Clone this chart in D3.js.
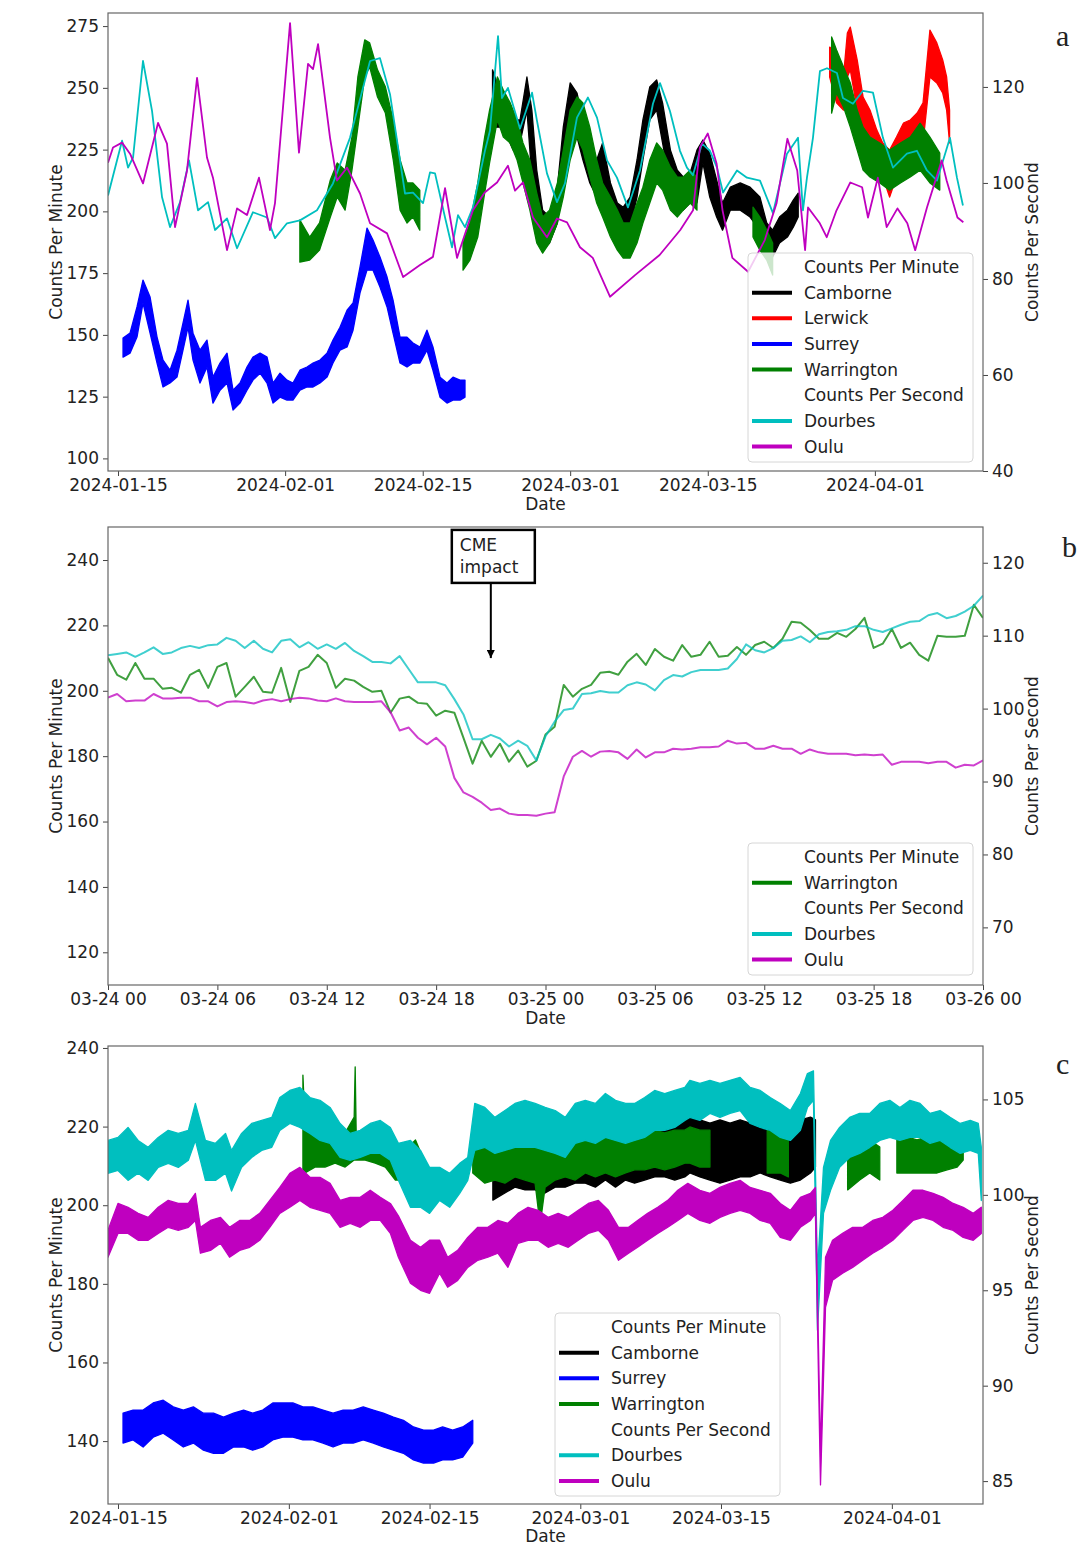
<!DOCTYPE html>
<html>
<head>
<meta charset="utf-8">
<script src="https://cdn.jsdelivr.net/npm/d3@7"></script>
<style>
  body { margin: 0; background: #fff; }
  text { font-family: "DejaVu Sans", sans-serif; fill: #222; }
</style>
</head>
<body>
<svg id="chart" width="1080" height="1545"></svg>
<script>
// ---------- data (days counted from 2024-01-15) ----------
// panel a : lines [day, value] and noisy bands [day, low, high]
var ouluA = [[-1.02,104.2],[-0.51,107.4],[0.41,108.4],[1.22,106.1],[2.54,99.9],[4.07,112.5],[4.98,108.2],[5.80,90.8],[7.02,102.6],[8.04,121.9],[9.05,105.3],[9.66,101.1],[11.09,86.0],[12.11,94.7],[13.12,93.3],[14.34,101.1],[15.46,90.2],[15.97,95.8],[17.50,133.3],[18.41,106.3],[19.33,124.8],[19.84,123.7],[20.35,128.9],[21.57,109.4],[22.28,100.5],[23.30,103.2],[24.62,97.8],[25.64,91.6],[27.37,89.5],[28.0,86.0],[29.0,80.4],[30.72,82.9],[32.04,84.6],[33.27,98.9],[34.49,84.4],[36.11,94.3],[37.3,98.0],[38.56,100.1],[39.67,103.6],[40.39,98.4],[41.20,100.1],[42.22,92.8],[43.64,88.7],[44.66,92.6],[45.68,91.8],[47.0,86.6],[48.3,84.4],[50.05,76.3],[52.6,80.8],[55.1,85.0],[57.2,90.2],[58.5,94.3],[59.2,107.4],[60.0,110.3],[60.9,104.0],[61.5,94.3],[62.5,84.4],[64.1,81.5],[65.8,88.1],[67.0,95.8],[68.1,109.2],[69.1,102.6],[69.9,86.0],[70.2,94.9],[71.4,91.6],[72.1,88.7],[73.1,94.3],[74.5,100.1],[75.7,99.1],[76.3,92.8],[77.3,101.1],[78.2,90.8],[79.3,94.7],[80.3,91.6],[81.1,86.0],[82.3,94.9],[83.8,104.7],[84.3,100.5],[85.4,92.8],[86.0,91.8]];

var dourbesA = [[-1.02,97.4],[0.41,108.8],[1.02,103.2],[1.53,105.3],[2.54,125.4],[3.46,115.0],[4.48,97.0],[5.29,90.8],[6.31,96.0],[7.22,104.7],[8.14,94.3],[9.16,96.0],[9.87,90.2],[11.09,92.6],[12.11,86.4],[13.73,93.9],[15.16,92.8],[15.97,88.5],[17.19,91.6],[18.51,92.2],[20.24,94.3],[21.87,99.9],[23.60,109.4],[24.92,119.8],[25.64,125.4],[26.65,126.0],[27.67,118.5],[28.69,104.7],[29.20,97.8],[30.01,98.0],[31.03,95.8],[31.74,102.2],[32.25,102.0],[33.27,92.8],[33.98,86.6],[34.59,93.3],[35.30,90.8],[36.11,94.9],[37.33,106.7],[37.84,110.9],[38.66,130.6],[39.06,117.7],[39.67,119.8],[40.90,111.3],[42.12,118.8],[42.62,113.0],[43.64,102.0],[44.66,96.0],[45.47,99.9],[46.69,113.6],[47.81,117.8],[48.73,113.6],[49.75,104.7],[50.76,101.1],[51.88,94.9],[53.10,102.6],[54.42,116.5],[55.14,120.8],[56.15,115.0],[57.17,106.7],[57.88,103.2],[58.49,101.6],[59.41,108.2],[60.22,106.7],[60.94,103.2],[61.55,98.0],[62.97,102.6],[63.99,101.1],[65.31,100.5],[66.63,93.7],[68.06,106.1],[69.18,109.4],[69.68,94.3],[70.09,101.1],[70.70,109.4],[71.41,123.3],[72.13,123.9],[73.14,122.9],[73.75,117.7],[74.77,116.5],[75.79,119.2],[76.81,118.8],[77.82,109.4],[78.84,103.2],[80.26,106.1],[81.28,106.7],[82.30,102.6],[83.32,100.5],[84.64,109.4],[85.35,101.1],[85.96,95.3]];

var warringtonA = [[18.5,179.5,196.5],[19.5,180.3,189.6],[20.5,184.3,195.3],[21.6,197.7,212.7],[22.3,205.8,219.6],[23.1,200.5,216.7],[23.8,216.7,230.1],[24.4,234.1,254.4],[25.1,254.4,269.4],[25.6,258.5,268.2],[26.4,246.3,257.3],[27.2,239.8,250.4],[28.0,220.8,237.0],[28.7,200.5,220.8],[29.4,195.3,211.5],[30.0,197.7,211.5],[30.7,192.4,208.6],
  [33,null,null],
  [35.1,176.2,187.2],[35.8,180.3,195.3],[36.6,189.6,211.5],[37.3,207.4,230.1],[37.8,219.6,241.0],[38.6,237.0,254.4],[39.2,230.1,249.1],[39.9,227.7,243.9],[40.6,220.8,237.0],[41.2,211.5,227.7],[41.9,200.5,220.8],[42.6,187.2,207.4],[43.2,183.1,197.7],[43.9,187.2,200.5],[44.7,195.3,211.5],[45.3,205.8,224.8],[46.0,220.8,241.0],[46.7,230.1,246.3],[47.3,224.8,243.9],[48.0,213.9,234.1],[48.7,203.4,220.8],[49.3,197.7,211.5],[50.1,189.6,205.8],[50.8,184.3,200.5],[51.4,181.1,195.3],[52.1,181.1,195.3],[52.8,187.2,203.4],[53.4,195.3,209.8],[54.1,203.4,220.8],[54.8,211.5,227.7],[55.4,208.6,224.8],[56.2,200.5,217.9],[56.9,197.7,213.9],[57.5,200.5,213.9],[58.2,203.4,216.7],[58.9,200.5,213.9],
  [62,null,null],
  [64.6,189.6,201.7],[65.3,184.3,197.7],[66.0,180.3,192.4],[66.6,174.2,187.2],
  [70,null,null],
  [72.6,239.8,270.6],[73.1,247.9,265.3],[73.8,242.3,258.5],[74.5,234.1,252.0],[75.2,224.8,241.0],[75.8,216.7,234.1],[76.5,213.9,230.1],[77.5,211.5,227.7],[78.5,208.6,224.8],[79.6,211.5,227.7],[80.6,213.9,230.1],[81.6,216.7,235.7],[82.6,211.5,230.1],[83.6,208.6,223.6]];

var camborneA = [[38.1,234.1,257.3],[38.9,234.1,247.9],[39.6,230.1,242.3],[40.2,224.8,237.0],[40.9,227.7,237.0],[41.6,241.0,254.4],[42.1,213.9,241.0],[42.6,193.6,216.7],[43.2,184.3,200.5],[43.9,187.2,197.7],[44.7,195.3,209.8],[45.3,213.9,234.1],[46.0,234.1,252.0],[46.7,230.1,247.9],[47.3,220.8,237.0],[48.0,211.5,227.7],[48.7,205.8,220.8],[49.3,211.5,227.7],[50.1,197.7,211.5],[50.8,193.6,203.4],[51.4,191.2,201.7],[52.1,193.6,205.8],[52.8,205.8,220.8],[53.4,220.8,237.0],[54.1,237.0,250.4],[54.8,241.0,253.2],[55.4,227.7,243.9],[56.2,209.8,224.8],[56.9,204.6,216.7],[57.5,200.5,213.9],[58.2,203.4,215.5],[58.9,203.4,224.8],[59.5,219.6,228.9],[60.2,205.8,223.6],[60.9,197.7,212.7],[61.5,192.4,203.4],[62.3,200.5,209.8],[63.3,200.5,211.5],[64.3,197.7,209.8],[65.3,192.4,205.8],[66.0,184.3,195.3],[66.6,181.5,192.4],[67.3,187.2,197.7],[68.1,189.6,200.5],[68.7,193.6,204.6],[69.2,197.7,207.4]];

var lerwickA = [[72.4,254.4,266.5],[73.1,243.9,264.1],[73.8,241.0,254.4],[74.2,254.4,272.2],[74.5,257.3,274.6],[75.2,241.0,261.3],[75.8,234.1,246.3],[76.5,224.8,241.0],[77.2,220.8,232.9],[77.8,213.9,227.7],[78.5,205.8,224.8],[79.2,213.9,230.1],[79.9,220.8,235.7],[80.6,223.6,237.0],[81.3,224.8,239.8],[81.9,227.7,243.9],[82.6,254.4,273.4],[83.3,252.0,268.2],[83.9,247.9,261.3],[84.3,241.0,254.4],[84.6,227.7,241.0]];

var surreyA = [[0.51,141.0,148.7],[1.22,142.6,150.7],[1.93,149.1,161.3],[2.54,162.9,172.2],[3.26,150.7,165.3],[3.97,138.6,149.1],[4.58,128.9,139.8],[5.29,130.5,135.7],[6.0,132.9,143.8],[6.61,143.8,154.8],[7.12,153.1,164.1],[7.63,139.8,150.7],[8.34,130.5,143.8],[9.05,137.0,147.9],[9.66,122.4,132.9],[10.38,127.6,138.6],[11.09,130.5,142.6],[11.7,119.6,127.6],[12.41,122.4,130.5],[13.12,127.6,137.0],[13.73,131.7,141.0],[14.45,134.5,142.6],[15.16,130.5,141.0],[15.77,122.4,130.5],[16.48,124.8,134.5],[17.19,123.6,131.7],[17.8,123.6,130.5],[18.51,127.6,135.7],[19.23,128.9,137.0],[19.84,128.9,138.6],[20.55,130.5,139.8],[21.26,132.9,142.6],[21.87,138.6,147.9],[22.58,143.8,153.1],[23.3,145.1,160.0],[23.91,151.9,162.9],[24.62,167.0,177.5],[25.33,176.2,193.2],[25.94,176.2,188.4],[26.65,169.4,181.5],[27.37,161.3,173.4],[27.98,150.7,164.1],[28.69,138.6,149.1],[29.4,137.0,149.1],[30.01,138.6,146.7],[30.72,138.6,145.1],[31.43,143.8,151.9],[32.04,135.7,145.1],[32.76,124.8,132.9],[33.47,122.4,130.5],[34.08,123.6,132.9],[34.79,123.6,131.7],[35.3,124.8,131.7]];

// panel b : half-hourly values from 2024-03-24 00:00
var warringtonB = [210.1,204.9,203.4,208.5,203.7,203.7,200.6,200.9,199.4,204.9,
  206.4,200.9,207.3,208.5,198.2,201.2,204.3,199.7,199.4,207.0,
  196.6,206.1,207.3,211.0,208.5,200.9,203.7,203.1,201.2,199.7,
  200.0,193.3,197.6,198.2,196.3,196.0,192.4,193.9,193.3,185.6,
  177.7,184.7,179.8,183.8,178.3,181.7,176.8,178.6,186.6,189.0,
  201.8,198.2,200.6,201.8,205.5,205.8,204.9,208.9,211.3,207.9,
  212.8,210.4,209.2,214.0,210.4,211.0,215.0,210.4,210.7,213.4,
  211.0,214.0,215.0,213.1,215.9,221.1,220.8,218.6,215.9,215.9,
  217.7,216.5,218.9,222.3,213.1,214.4,218.9,213.1,214.7,211.0,
  209.2,216.8,216.5,216.5,216.8,226.3,222.3];
var dourbesB = [107.3,107.5,107.7,107.1,107.7,108.4,107.5,107.7,108.3,108.6,
  108.3,108.7,108.8,109.7,109.3,108.3,109.3,108.2,107.7,109.3,
  109.5,108.4,109.1,108.2,108.8,108.2,109.0,107.9,107.2,106.4,
  106.4,106.2,107.2,105.4,103.6,103.6,103.6,103.2,101.3,99.2,
  95.8,95.8,96.4,95.9,94.8,95.6,94.9,92.9,96.2,98.2,
  99.8,100.0,102.0,102.1,102.4,102.2,102.2,103.2,103.6,103.3,
  102.5,103.9,104.6,104.4,105.0,105.3,105.3,105.3,105.5,106.8,
  108.8,108.0,107.7,108.3,109.3,109.4,109.9,109.1,110.2,110.5,
  110.6,110.8,111.3,111.3,110.8,110.5,111.0,111.5,111.9,112.0,
  112.8,113.1,112.4,112.7,113.3,114.1,115.5];
var ouluB = [101.5,102.0,101.0,101.1,101.1,102.0,101.4,101.4,101.5,101.5,
  101.0,101.0,100.3,100.9,101.0,100.9,100.7,101.1,101.3,101.0,
  101.3,101.5,101.4,101.1,101.0,101.4,101.0,100.9,100.9,100.9,
  101.0,99.5,97.0,97.4,96.0,95.1,96.0,94.8,90.5,88.5,
  87.9,87.1,86.1,86.3,85.6,85.4,85.4,85.3,85.6,85.8,
  90.7,93.4,94.2,93.4,94.1,94.2,94.0,93.1,94.4,93.3,
  94.0,94.0,94.5,94.4,94.5,94.7,94.7,94.8,95.6,95.2,
  95.3,94.5,94.5,94.9,94.5,94.5,93.8,94.4,94.0,93.8,
  93.8,93.8,93.6,93.7,93.6,93.7,92.3,92.7,92.7,92.7,
  92.5,92.7,92.7,91.9,92.3,92.2,92.9];
var cmeHour = 21, cmeValue = 210, cmeTextValue = 233;

// panel c : noisy bands [day, low, high]
var dourbesC = [[-1.0,101.13,102.85],[0,101.28,103.01],[1.0,100.76,103.53],[2.0,101.13,102.85],[3.0,100.76,102.49],[4.0,101.44,103.01],[5.0,101.65,103.38],[6.0,101.44,103.22],[7.0,101.81,103.38],[7.7,102.85,104.79],[8.7,100.76,102.85],[9.7,100.76,102.7],[10.7,101.13,103.22],[11.3,100.2,102.33],[12.3,101.44,103.22],[13.3,101.96,103.74],[14.3,102.33,103.9],[15.3,102.49,104.06],[16.1,103.38,105.1],[17.1,103.74,105.47],[18.1,103.53,105.63],[19.1,103.22,105.1],[20.1,102.85,104.95],[21.1,102.7,104.58],[22.1,101.96,103.74],[23.1,101.81,103.22],[24.1,101.96,103.38],[25.1,102.17,103.74],[26.1,102.17,103.9],[27.1,101.81,103.53],[27.9,100.76,102.7],[29.1,99.35,102.85],[30.1,99.35,102.33],[31.0,99.03,101.44],[32.0,99.71,101.44],[33.0,99.35,101.13],[34.0,100.08,101.65],[34.8,100.76,101.96],[35.5,102.33,104.79],[36.5,102.49,104.58],[37.5,102.17,104.06],[38.5,102.33,104.42],[39.5,102.49,104.79],[40.5,102.49,104.95],[41.5,102.49,104.79],[42.5,102.33,104.58],[43.5,102.17,104.42],[44.5,101.96,104.06],[45.5,102.7,104.79],[46.5,102.85,104.95],[47.5,102.7,104.79],[48.5,103.01,105.31],[49.5,102.85,104.95],[50.5,102.7,104.79],[51.4,102.85,104.79],[52.4,103.01,105.1],[53.4,103.38,105.47],[54.4,103.38,105.31],[55.4,103.53,105.47],[56.4,103.9,105.63],[56.9,104.06,106.0],[57.9,103.9,105.84],[58.9,104.27,106.0],[59.9,104.06,105.84],[60.9,104.27,106.0],[61.9,104.42,106.15],[62.9,103.74,105.63],[63.9,103.53,105.47],[64.9,103.38,105.1],[65.9,103.01,104.79],[66.9,102.85,104.42],[67.9,103.38,105.31],[68.6,104.58,106.36],[69.2,104.95,106.5],[69.6,92.9,96.0],[70.2,99.03,101.44],[70.9,100.24,102.85],[71.8,101.44,103.53],[72.8,101.96,104.06],[73.8,102.17,104.27],[74.8,102.49,104.27],[75.8,102.85,104.79],[76.8,103.01,104.95],[77.8,102.85,104.58],[78.8,103.01,104.95],[79.8,103.01,104.79],[80.8,102.7,104.27],[81.8,102.85,104.42],[82.8,102.49,104.06],[83.8,102.17,103.74],[84.8,102.33,103.9],[85.6,102.17,103.74],[85.9,99.7,102.5]];

var ouluC = [[-1.0,96.73,98.14],[0,97.98,99.55],[1.0,97.98,99.35],[2.0,97.62,99.03],[3.0,97.62,98.82],[4.0,97.98,99.35],[5.0,98.3,99.71],[6.0,98.14,99.55],[7.0,98.3,99.55],[7.7,98.66,100.08],[8.2,96.94,98.3],[9.2,97.09,98.66],[10.2,97.46,98.82],[11.1,96.73,98.3],[12.1,97.09,98.66],[13.1,97.25,98.66],[14.1,97.62,99.03],[15.1,98.3,99.71],[16.1,99.03,100.39],[17.1,99.35,101.13],[18.1,99.71,101.44],[19.1,99.35,100.92],[20.1,99.19,100.92],[21.1,99.03,100.6],[22.1,98.3,99.71],[23.1,98.51,99.87],[24.1,98.3,99.87],[25.1,98.66,100.24],[26.1,98.66,99.87],[27.1,97.98,99.55],[27.9,96.73,98.9],[29.1,95.37,97.62],[30.1,95.0,97.25],[31.0,94.84,97.62],[32.0,95.89,97.62],[32.8,95.16,96.73],[33.8,95.52,97.09],[34.8,96.2,97.77],[35.8,96.57,98.3],[36.8,96.73,98.3],[37.8,96.94,98.66],[38.8,96.2,98.51],[39.8,97.46,99.03],[40.8,97.62,99.35],[41.8,97.62,99.19],[42.8,97.25,98.82],[43.8,97.46,99.03],[44.8,97.25,98.82],[45.8,97.62,99.19],[46.8,97.98,99.55],[47.8,98.14,99.71],[48.8,97.62,99.19],[49.8,96.57,98.3],[50.8,96.94,98.3],[51.7,97.25,98.66],[52.7,97.62,99.03],[53.7,97.98,99.35],[54.7,98.3,99.71],[55.7,98.66,100.24],[56.7,99.03,100.6],[57.9,98.66,100.24],[58.9,98.51,100.08],[59.9,98.82,100.39],[60.9,99.03,100.6],[61.9,99.19,100.76],[62.9,99.03,100.39],[63.9,98.66,100.24],[64.9,98.51,100.08],[65.9,97.77,99.55],[66.9,97.62,99.19],[67.9,98.3,99.87],[68.9,98.66,100.08],[69.4,99.03,100.39],[69.9,84.8,86.5],[70.4,94.11,96.73],[71.1,95.52,97.62],[72.1,95.89,97.98],[73.1,96.2,98.3],[74.1,96.57,98.3],[75.1,96.94,98.66],[76.1,97.25,98.82],[77.1,97.62,99.19],[78.1,98.14,99.71],[79.1,98.66,100.24],[80.1,98.82,100.24],[81.1,98.66,100.08],[82.1,98.3,99.87],[83.1,98.14,99.55],[84.1,97.77,99.35],[85.1,97.62,99.03],[85.9,97.98,99.35]];

var warringtonC = [[18.4,208.2,233.1],[18.6,208.2,220.9],[19.6,209.7,219.9],[20.6,209.7,219.1],[21.6,210.7,219.9],[22.6,209.7,218.4],[23.5,211.5,222.4],[23.6,211.5,235.2],[23.7,211.5,218.4],[24.6,211.5,218.4],[25.6,210.7,218.4],[26.6,209.7,217.4],[27.6,206.4,214.8],[28.6,206.4,214.0],[29.6,205.6,216.6],[30.3,202.1,212.3],
  [32,null,null],
  [35.3,208.2,218.4],[36.5,205.6,216.6],[37.5,206.4,215.8],[38.5,205.6,216.6],[39.5,207.2,216.6],[40.5,206.4,215.8],[41.5,205.6,216.6],[42.0,195.0,215.0],[42.5,204.6,214.8],[43.5,206.4,215.8],[44.5,207.2,216.6],[45.5,206.4,216.6],[46.5,208.2,217.4],[47.5,207.2,216.6],[48.5,208.2,217.4],[49.5,207.2,216.6],[50.5,208.2,217.4],[51.4,209.0,218.4],[52.4,209.0,218.4],[53.4,209.7,219.1],[54.4,209.0,218.4],[55.4,209.7,219.1],[56.4,210.7,219.1],[56.9,210.7,219.9],[57.9,209.7,219.1],[58.9,209.7,219.1],
  [61,null,null],
  [64.6,208.2,219.1],[65.9,208.2,217.4],[66.7,207.2,216.6],
  [70,null,null],
  [72.6,203.9,214.8],[73.8,206.4,214.8],[74.8,208.2,216.6],[75.8,206.4,214.8],
  [76.6,null,null],
  [77.5,208.2,217.4],[78.5,208.2,217.4],[79.5,208.2,216.6],[80.5,208.2,217.4],[81.5,208.2,216.6],[82.5,209.0,216.6],[83.5,209.7,216.6],[84.1,211.5,217.4]];

var camborneC = [[37.3,201.3,218.4],[38.5,203.1,216.6],[39.5,204.6,218.4],[40.5,203.9,216.6],[41.5,203.9,217.4],[42.5,203.1,216.6],[43.5,204.6,216.6],[44.5,204.6,217.4],[45.5,205.6,217.4],[46.5,205.6,218.4],[47.5,204.6,218.4],[48.5,206.4,222.4],[49.5,204.6,218.4],[50.5,206.4,219.9],[51.4,205.6,219.1],[52.4,206.4,219.9],[53.4,207.2,220.9],[54.4,207.2,220.9],[55.4,206.4,223.5],[56.4,207.2,222.4],[56.9,208.2,223.5],[57.9,207.2,221.7],[58.9,206.4,220.9],[59.9,205.6,221.7],[60.9,206.4,220.9],[61.9,207.2,221.7],[62.9,207.2,220.9],[63.9,208.2,221.7],[64.9,207.2,219.9],[65.9,206.4,221.7],[66.9,205.6,220.9],[67.9,206.4,221.7],[68.9,208.2,222.4],[69.4,209.7,221.7]];

var surreyC = [[0.5,139.5,147.1],[1.5,140.3,147.9],[2.5,138.5,147.9],[3.5,141.0,149.7],[4.5,142.0,150.4],[5.5,140.3,148.7],[6.5,138.5,147.9],[7.5,139.5,148.7],[8.5,137.7,147.1],[9.5,136.9,147.1],[10.5,136.9,146.1],[11.5,138.5,147.1],[12.5,138.5,147.9],[13.4,137.7,147.1],[14.4,138.5,147.9],[15.4,140.3,149.7],[16.4,141.0,149.7],[17.4,141.0,149.7],[18.4,140.3,148.7],[19.4,140.3,148.7],[20.4,139.5,147.9],[21.4,138.5,147.1],[22.4,139.5,147.9],[23.4,139.5,147.9],[24.4,140.3,148.7],[25.4,139.5,147.9],[26.4,138.5,147.1],[27.4,137.7,146.1],[28.4,136.9,145.3],[29.4,135.2,143.6],[30.4,134.4,142.8],[31.4,134.4,142.8],[32.3,135.2,143.6],[33.3,135.2,142.8],[34.3,135.9,143.6],[35.3,139.5,145.3]];

// ticks
var dateTicks = ["2024-01-15", "2024-02-01", "2024-02-15", "2024-03-01", "2024-03-15", "2024-04-01"];
var yTicksLA = [100, 125, 150, 175, 200, 225, 250, 275];
var yTicksRA = [40, 60, 80, 100, 120];
var yTicksLB = [120, 140, 160, 180, 200, 220, 240];
var yTicksRB = [70, 80, 90, 100, 110, 120];
var yTicksLC = [140, 160, 180, 200, 220, 240];
var yTicksRC = [85, 90, 95, 100, 105];

var colors = { Camborne: "#000000", Lerwick: "#ff0000", Surrey: "#0000ff", Warrington: "#008000", Dourbes: "#00bfbf", Oulu: "#bf00bf" };

// ---------- setup ----------
var svg = d3.select("#chart");
var X0 = 108, X1 = 983;
var base = new Date(2024, 0, 15);
var parseDay = d3.timeParse("%Y-%m-%d");
function day(d) { return new Date(base.getTime() + d * 864e5); }
var bStart = new Date(2024, 2, 24);
function halfHour(i) { return new Date(bStart.getTime() + i * 18e5); }

function plotGroup(id, top, bottom) {
  svg.append("clipPath").attr("id", "clip-" + id)
    .append("rect").attr("x", X0).attr("y", top).attr("width", X1 - X0).attr("height", bottom - top);
  return svg.append("g").attr("clip-path", "url(#clip-" + id + ")");
}

function drawBand(g, rows, x, y, color) {
  var area = d3.area()
    .defined(function(d) { return d[1] != null; })
    .x(function(d) { return x(day(d[0])); })
    .y0(function(d) { return y(d[1]); })
    .y1(function(d) { return y(d[2]); });
  g.append("path").datum(rows).attr("d", area)
    .attr("fill", color).attr("stroke", color)
    .attr("stroke-width", 1.3).attr("stroke-linejoin", "round");
}

function drawLine(g, rows, xf, yf, color, w, op) {
  var line = d3.line().x(xf).y(yf);
  g.append("path").datum(rows).attr("d", line)
    .attr("fill", "none").attr("stroke", color)
    .attr("stroke-width", w).attr("stroke-opacity", op).attr("stroke-linejoin", "round");
}

function axes(top, bottom, x, yL, yR, xTicks, xFmt, lTicks, rTicks, dateGap) {
  var gx = svg.append("g").attr("transform", "translate(0," + bottom + ")")
    .call(d3.axisBottom(x).tickValues(xTicks).tickFormat(xFmt).tickSize(5).tickPadding(3));
  var gl = svg.append("g").attr("transform", "translate(" + X0 + ",0)")
    .call(d3.axisLeft(yL).tickValues(lTicks).tickSize(5).tickPadding(4));
  var gr = svg.append("g").attr("transform", "translate(" + X1 + ",0)")
    .call(d3.axisRight(yR).tickValues(rTicks).tickSize(5).tickPadding(4));
  [gx, gl, gr].forEach(function(g) {
    g.attr("font-size", 17).attr("font-family", "DejaVu Sans, sans-serif");
    g.select(".domain").remove();
    g.selectAll(".tick line").attr("stroke", "#444");
    g.selectAll(".tick text").attr("fill", "#222");
  });
  svg.append("rect").attr("x", X0).attr("y", top)
    .attr("width", X1 - X0).attr("height", bottom - top)
    .attr("fill", "none").attr("stroke", "#666").attr("stroke-width", 1.2);

  var mid = (top + bottom) / 2;
  svg.append("text").attr("x", (X0 + X1) / 2).attr("y", bottom + dateGap)
    .attr("text-anchor", "middle").attr("dominant-baseline", "middle")
    .attr("font-size", 17).text("Date");
  svg.append("text").attr("transform", "translate(57," + mid + ") rotate(-90)")
    .attr("text-anchor", "middle").attr("dominant-baseline", "middle")
    .attr("font-size", 17).text("Counts Per Minute");
  svg.append("text").attr("transform", "translate(1033," + mid + ") rotate(-90)")
    .attr("text-anchor", "middle").attr("dominant-baseline", "middle")
    .attr("font-size", 17).text("Counts Per Second");
}

function legend(x0, y0, w, h, items) {
  var g = svg.append("g");
  g.append("rect").attr("x", x0).attr("y", y0).attr("width", w).attr("height", h)
    .attr("rx", 4).attr("fill", "#fff").attr("fill-opacity", 0.8)
    .attr("stroke", "#d6d6d6");
  items.forEach(function(name, i) {
    var cy = y0 + 14 + i * 25.65;
    if (colors[name]) {
      g.append("line").attr("x1", x0 + 4).attr("x2", x0 + 44).attr("y1", cy).attr("y2", cy)
        .attr("stroke", colors[name]).attr("stroke-width", 4);
    }
    g.append("text").attr("x", x0 + 56).attr("y", cy).attr("dominant-baseline", "central")
      .attr("font-size", 17).text(name);
  });
}

function panelLetter(letter, x, y) {
  svg.append("text").attr("x", x).attr("y", y)
    .attr("font-size", 30)
    .style("font-family", "Liberation Serif, serif").text(letter);
}

// ---------- panel a ----------
var xA = d3.scaleTime().domain([day(-1.02), day(88.0)]).range([X0, X1]);
var yLA = d3.scaleLinear().domain([94.9, 280.3]).range([471, 13]);
var yRA = d3.scaleLinear().domain([40, 135.4]).range([471, 13]);
var gA = plotGroup("a", 13, 471);
drawBand(gA, camborneA, xA, yLA, colors.Camborne);
drawBand(gA, lerwickA, xA, yLA, colors.Lerwick);
drawBand(gA, surreyA, xA, yLA, colors.Surrey);
drawBand(gA, warringtonA, xA, yLA, colors.Warrington);
drawLine(gA, dourbesA, function(d) { return xA(day(d[0])); }, function(d) { return yRA(d[1]); }, colors.Dourbes, 1.8, 1);
drawLine(gA, ouluA, function(d) { return xA(day(d[0])); }, function(d) { return yRA(d[1]); }, colors.Oulu, 1.8, 1);
axes(13, 471, xA, yLA, yRA, dateTicks.map(parseDay), d3.timeFormat("%Y-%m-%d"), yTicksLA, yTicksRA, 34);
legend(748, 253, 225, 209, ["Counts Per Minute", "Camborne", "Lerwick", "Surrey", "Warrington", "Counts Per Second", "Dourbes", "Oulu"]);
panelLetter("a", 1056, 46);

// ---------- panel b ----------
var xB = d3.scaleTime().domain([bStart, halfHour(96)]).range([X0, X1]);
var yLB = d3.scaleLinear().domain([110.0, 250.1]).range([985, 527]);
var yRB = d3.scaleLinear().domain([62.1, 124.9]).range([985, 527]);
var gB = plotGroup("b", 527, 985);
drawLine(gB, warringtonB, function(d, i) { return xB(halfHour(i)); }, function(d) { return yLB(d); }, colors.Warrington, 2, 0.75);
drawLine(gB, dourbesB, function(d, i) { return xB(halfHour(i)); }, function(d) { return yRB(d); }, colors.Dourbes, 2, 0.75);
drawLine(gB, ouluB, function(d, i) { return xB(halfHour(i)); }, function(d) { return yRB(d); }, colors.Oulu, 2, 0.75);
axes(527, 985, xB, yLB, yRB, d3.range(0, 97, 12).map(halfHour), d3.timeFormat("%m-%d %H"), yTicksLB, yTicksRB, 34);
legend(748, 843, 225, 132, ["Counts Per Minute", "Warrington", "Counts Per Second", "Dourbes", "Oulu"]);
panelLetter("b", 1062, 557);

// CME annotation
var cmeX = xB(new Date(bStart.getTime() + cmeHour * 36e5));
var boxBottom = yLB(cmeTextValue);
var tip = yLB(cmeValue);
svg.append("defs").append("marker").attr("id", "arrow")
  .attr("viewBox", "0 0 10 10").attr("refX", 10).attr("refY", 5)
  .attr("markerWidth", 4).attr("markerHeight", 4).attr("orient", "auto")
  .append("path").attr("d", "M0,0 L10,5 L0,10 z").attr("fill", "#000");
svg.append("line").attr("x1", cmeX).attr("x2", cmeX).attr("y1", boxBottom).attr("y2", tip)
  .attr("stroke", "#000").attr("stroke-width", 2).attr("marker-end", "url(#arrow)");
svg.append("rect").attr("x", cmeX - 39).attr("y", boxBottom - 53).attr("width", 83).attr("height", 53)
  .attr("fill", "#fff").attr("stroke", "#000").attr("stroke-width", 2.5);
svg.append("text").attr("x", cmeX - 31).attr("y", boxBottom - 32).attr("font-size", 17).text("CME");
svg.append("text").attr("x", cmeX - 31).attr("y", boxBottom - 10).attr("font-size", 17).text("impact");

// ---------- panel c ----------
var xC = d3.scaleTime().domain([day(-0.995), day(86.07)]).range([X0, X1]);
var yLC = d3.scaleLinear().domain([124.0, 240.5]).range([1504, 1046]);
var yRC = d3.scaleLinear().domain([83.8, 107.8]).range([1504, 1046]);
var gC = plotGroup("c", 1046, 1504);
drawBand(gC, camborneC, xC, yLC, colors.Camborne);
drawBand(gC, surreyC, xC, yLC, colors.Surrey);
drawBand(gC, warringtonC, xC, yLC, colors.Warrington);
drawBand(gC, dourbesC, xC, yRC, colors.Dourbes);
drawBand(gC, ouluC, xC, yRC, colors.Oulu);
axes(1046, 1504, xC, yLC, yRC, dateTicks.map(parseDay), d3.timeFormat("%Y-%m-%d"), yTicksLC, yTicksRC, 33);
legend(555, 1313, 225, 183, ["Counts Per Minute", "Camborne", "Surrey", "Warrington", "Counts Per Second", "Dourbes", "Oulu"]);
panelLetter("c", 1056, 1074);
</script>
</body>
</html>
